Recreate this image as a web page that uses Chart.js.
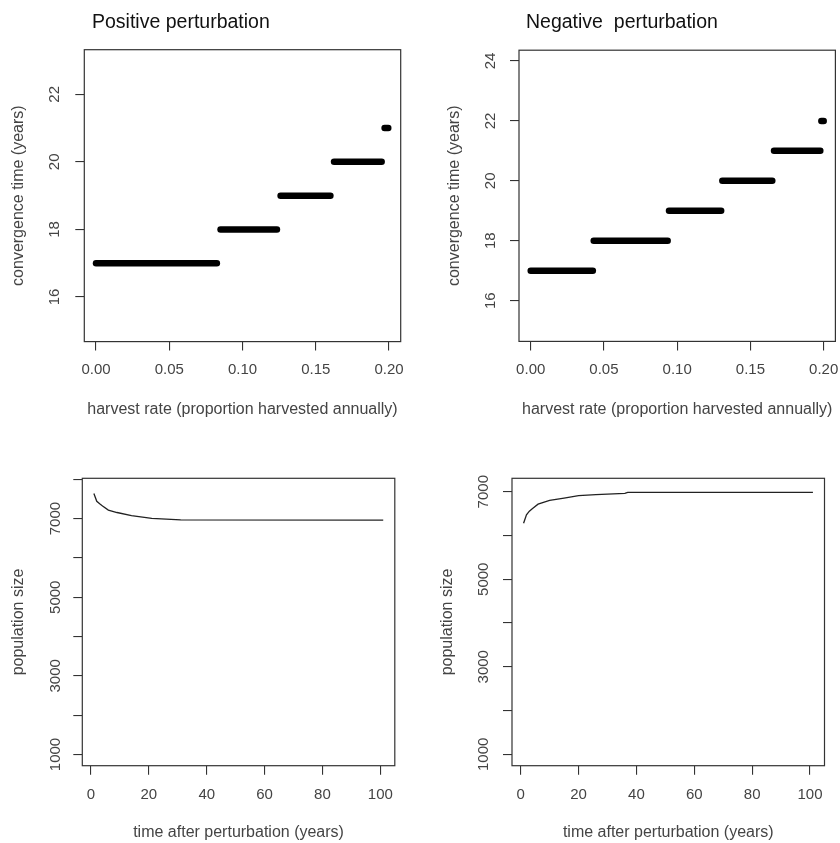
<!DOCTYPE html>
<html>
<head>
<meta charset="utf-8">
<script src="https://cdn.jsdelivr.net/npm/chart.js@4.4.0/dist/chart.umd.min.js"></script>
<style>
  body { margin: 0; background: #fff; }
  #wrap { position: relative; width: 840px; height: 843px; }
  canvas { position: absolute; }
</style>
</head>
<body>
<div id="wrap">
  <canvas id="posSteps" width="420" height="421" style="left:0;top:0"></canvas>
  <canvas id="negSteps" width="420" height="421" style="left:420px;top:0"></canvas>
  <canvas id="posPop" width="420" height="422" style="left:0;top:421px"></canvas>
  <canvas id="negPop" width="420" height="422" style="left:420px;top:421px"></canvas>
</div>
<script>
// convergence time steps
const posStepStart = [0.000, 0.085, 0.126, 0.1625, 0.197];
const posStepEnd = [0.0825, 0.1235, 0.160, 0.195, 0.1995];
const posStepYears = [17, 18, 19, 20, 21];

const negStepStart = [0.000, 0.043, 0.0944, 0.1308, 0.1661, 0.1984];
const negStepEnd = [0.0424, 0.0935, 0.130, 0.1649, 0.1977, 0.2];
const negStepYears = [17, 18, 19, 20, 21, 22];

const harvestTicks = [0, 0.05, 0.10, 0.15, 0.20];
const posYearTicks = [16, 18, 20, 22];
const negYearTicks = [16, 18, 20, 22, 24];

// population size after the perturbation
const posTime = [1, 2, 3, 4, 6, 9, 14, 21, 31, 101];
const posSize = [7640, 7440, 7375, 7320, 7215, 7155, 7075, 7008, 6965, 6960];

const negTime = [1, 2, 3, 4, 6, 10, 15, 20, 26, 36, 37, 101];
const negSize = [6280, 6470, 6555, 6610, 6715, 6800, 6855, 6910, 6932, 6963, 6985, 6985];

const timeTicks = [0, 20, 40, 60, 80, 100];
const posPopTicks = [1000, 2000, 3000, 4000, 5000, 6000, 7000, 8000];
const negPopTicks = [1000, 2000, 3000, 4000, 5000, 6000, 7000];
const popLabels = [1000, 3000, 5000, 7000];

Chart.defaults.font.family = '"Liberation Sans", Arial, sans-serif';
Chart.defaults.color = '#444';

const panelFrame = {
    id: 'panelFrame',
    afterDraw(chart, args, opts) {
        const { ctx, chartArea: a } = chart;
        ctx.save();
        ctx.strokeStyle = '#333';
        ctx.lineWidth = 1.2;
        ctx.strokeRect(a.left, a.top, a.right - a.left, a.bottom - a.top);
        if (opts.title) {
            ctx.fillStyle = '#111';
            ctx.font = '19.5px "Liberation Sans", Arial, sans-serif';
            ctx.textBaseline = 'alphabetic';
            ctx.textAlign = 'left';
            ctx.fillText(opts.title, opts.titleX, opts.titleY);
        }
        ctx.restore();
    }
};

function tickGrid() {
    return { display: true, drawOnChartArea: false, drawTicks: true, tickLength: 9, color: '#333', lineWidth: 1.1 };
}

function makePanel(id, p) {
    new Chart(document.getElementById(id), {
        type: 'line',
        data: { datasets: p.datasets },
        plugins: [panelFrame],
        options: {
            responsive: false,
            animation: false,
            layout: { padding: { left: 0, top: p.top, right: p.right, bottom: 0 } },
            plugins: {
                legend: { display: false },
                tooltip: { enabled: false },
                panelFrame: { title: p.title, titleX: p.titleX, titleY: p.titleY }
            },
            elements: { point: { radius: 0 } },
            scales: {
                x: {
                    type: 'linear',
                    min: p.xMin,
                    max: p.xMax,
                    grid: tickGrid(),
                    border: { display: false },
                    afterBuildTicks: s => { s.ticks = p.xTicks.map(v => ({ value: v })); },
                    afterFit: s => { s.height = p.xHeight; s.paddingLeft = 0; s.paddingRight = 0; },
                    ticks: {
                        autoSkip: false,
                        maxRotation: 0,
                        padding: p.xPad,
                        font: { size: 15 },
                        callback: p.xFormat
                    },
                    title: {
                        display: true,
                        text: p.xTitle,
                        font: { size: 16 },
                        padding: { top: 0, bottom: p.xTitlePad }
                    }
                },
                y: {
                    type: 'linear',
                    min: p.yMin,
                    max: p.yMax,
                    grid: tickGrid(),
                    border: { display: false },
                    afterBuildTicks: s => { s.ticks = p.yTicks.map(v => ({ value: v })); },
                    afterFit: s => { s.width = p.yWidth; s.paddingTop = 0; s.paddingBottom = 0; },
                    ticks: {
                        autoSkip: false,
                        minRotation: 90,
                        maxRotation: 90,
                        crossAlign: 'center',
                        padding: p.yPad,
                        font: { size: 15 },
                        callback: p.yFormat
                    },
                    title: {
                        display: true,
                        text: p.yTitle,
                        font: { size: 16 },
                        padding: { top: p.yTitlePad, bottom: 0 }
                    }
                }
            }
        }
    });
}

function stepSets(starts, ends, years) {
    return years.map((y, i) => ({
        data: [{ x: starts[i], y: y }, { x: ends[i], y: y }],
        borderColor: '#000',
        borderWidth: 6.5,
        borderCapStyle: 'round'
    }));
}

function popSet(times, sizes) {
    return [{
        data: times.map((t, i) => ({ x: t, y: sizes[i] })),
        borderColor: '#222',
        borderWidth: 1.3,
        tension: 0
    }];
}

const harvestFmt = v => v.toFixed(2);
const plainFmt = v => String(v);
const popFmt = v => popLabels.includes(v) ? String(v) : '';

makePanel('posSteps', {
    datasets: stepSets(posStepStart, posStepEnd, posStepYears),
    title: 'Positive perturbation', titleX: 92, titleY: 28,
    top: 49.7, right: 19.3, yWidth: 84.3, xHeight: 79.4,
    xMin: -0.008, xMax: 0.208, xTicks: harvestTicks, xFormat: harvestFmt, xPad: 10.4,
    xTitle: 'harvest rate (proportion harvested annually)', xTitlePad: 1.4,
    yMin: 14.68, yMax: 23.32, yTicks: posYearTicks, yFormat: plainFmt, yPad: 12,
    yTitle: 'convergence time (years)', yTitlePad: 9.4
});

makePanel('negSteps', {
    datasets: stepSets(negStepStart, negStepEnd, negStepYears),
    title: 'Negative  perturbation', titleX: 106, titleY: 28,
    top: 50.2, right: 4.6, yWidth: 99, xHeight: 79.6,
    xMin: -0.008, xMax: 0.208, xTicks: harvestTicks, xFormat: harvestFmt, xPad: 10.4,
    xTitle: 'harvest rate (proportion harvested annually)', xTitlePad: 1.4,
    yMin: 14.64, yMax: 24.36, yTicks: negYearTicks, yFormat: plainFmt, yPad: 10.5,
    yTitle: 'convergence time (years)', yTitlePad: 25.4
});

makePanel('posPop', {
    datasets: popSet(posTime, posSize),
    title: '', titleX: 0, titleY: 0,
    top: 57.3, right: 25.2, yWidth: 82.3, xHeight: 77.3,
    xMin: -3, xMax: 105, xTicks: timeTicks, xFormat: plainFmt, xPad: 11.5,
    xTitle: 'time after perturbation (years)', xTitlePad: 0.5,
    yMin: 715, yMax: 8025, yTicks: posPopTicks, yFormat: popFmt, yPad: 1.1,
    yTitle: 'population size', yTitlePad: 9.4
});

makePanel('negPop', {
    datasets: popSet(negTime, negSize),
    title: '', titleX: 0, titleY: 0,
    top: 57.3, right: 15.5, yWidth: 92, xHeight: 77.3,
    xMin: -3, xMax: 105, xTicks: timeTicks, xFormat: plainFmt, xPad: 11.5,
    xTitle: 'time after perturbation (years)', xTitlePad: 0.5,
    yMin: 740, yMax: 7306, yTicks: negPopTicks, yFormat: popFmt, yPad: 2.1,
    yTitle: 'population size', yTitlePad: 18.4
});
</script>
</body>
</html>
